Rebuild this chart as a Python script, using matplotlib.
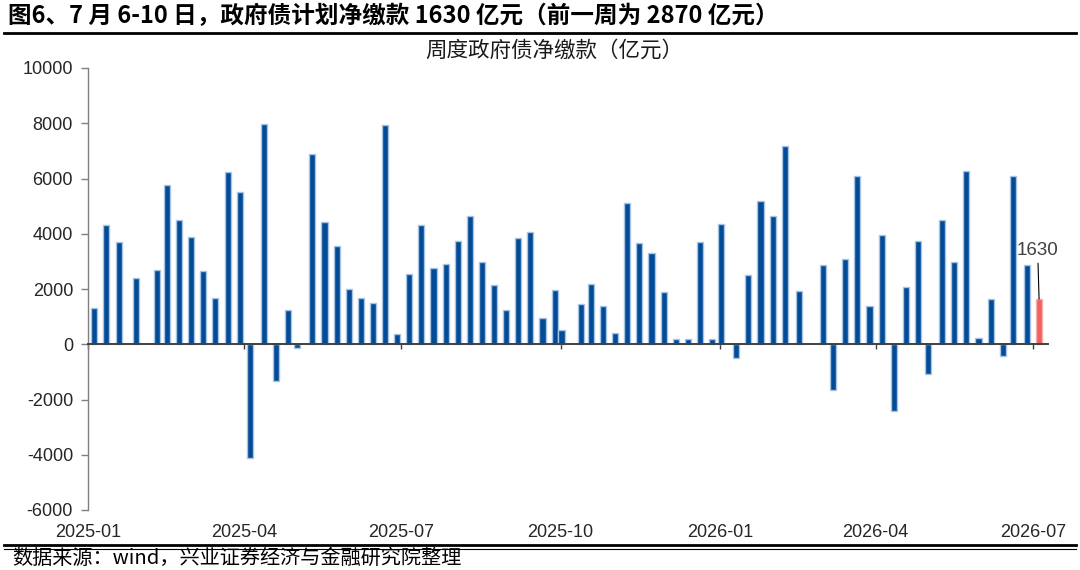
import matplotlib
matplotlib.use("Agg")
import matplotlib.pyplot as plt
import matplotlib.dates as mdates
from matplotlib.lines import Line2D
from matplotlib.ticker import FixedLocator, FuncFormatter
import pandas as pd

plt.rcParams['font.family'] = ['Liberation Sans', 'Noto Sans CJK SC', 'DejaVu Sans']

# ---------------- data ----------------
dates = [
    "2025-01-03", "2025-01-10", "2025-01-17", "2025-01-27", "2025-02-08", "2025-02-14", "2025-02-21", "2025-02-28",
    "2025-03-07", "2025-03-14", "2025-03-21", "2025-03-28", "2025-04-03", "2025-04-11", "2025-04-18", "2025-04-25",
    "2025-04-30", "2025-05-09", "2025-05-16", "2025-05-23", "2025-05-30", "2025-06-06", "2025-06-13", "2025-06-20",
    "2025-06-27", "2025-07-04", "2025-07-11", "2025-07-18", "2025-07-25", "2025-08-01", "2025-08-08", "2025-08-15",
    "2025-08-22", "2025-08-29", "2025-09-05", "2025-09-12", "2025-09-19", "2025-09-26", "2025-09-30", "2025-10-11",
    "2025-10-17", "2025-10-24", "2025-10-31", "2025-11-07", "2025-11-14", "2025-11-21", "2025-11-28", "2025-12-05",
    "2025-12-12", "2025-12-19", "2025-12-26", "2025-12-31", "2026-01-09", "2026-01-16", "2026-01-23", "2026-01-30",
    "2026-02-06", "2026-02-14", "2026-02-28", "2026-03-06", "2026-03-13", "2026-03-20", "2026-03-27", "2026-04-03",
    "2026-04-10", "2026-04-17", "2026-04-24", "2026-04-30", "2026-05-08", "2026-05-15", "2026-05-22", "2026-05-29",
    "2026-06-05", "2026-06-12", "2026-06-18", "2026-06-26", "2026-07-03",
]
values = [
    1330, 4300, 3710, 2410, 2670, 5750, 4500, 3870,
    2640, 1670, 6250, 5510, -4120, 7990, -1330, 1240,
    -150, 6890, 4420, 3560, 2010, 1660, 1480, 7920,
    380, 2540, 4320, 2760, 2900, 3740, 4630, 2970,
    2140, 1240, 3830, 4070, 940, 1960, 500, 1440,
    2180, 1380, 410, 5120, 3670, 3320, 1890, 190,
    190, 3710, 180, 4370, -510, 2490, 5190, 4650,
    7180, 1920, 2860, -1650, 3100, 6090, 1380, 3970,
    -2430, 2060, 3750, -1090, 4510, 2970, 6280, 230,
    1650, -440, 6090, 2870, 1630,
]
yticks = [-6000, -4000, -2000, 0, 2000, 4000, 6000, 8000, 10000]
tick_months = [1, 4, 7, 10]
title = "图6、7 月 6-10 日，政府债计划净缴款 1630 亿元（前一周为 2870 亿元）"
chart_title = "周度政府债净缴款（亿元）"
source = "数据来源：wind，兴业证券经济与金融研究院整理"
x_start, x_end = "2025-01-01", "2026-07-09 16:00"

# ---------------- style ----------------
BLUE = "#024b96"
RED = "#f0605e"
EDGE_BLUE = "#a8c3e3"
EDGE_RED = "#f7b0ae"
W, H = 1080, 570

fig = plt.figure(figsize=(W / 100, H / 100), dpi=100)
ax = fig.add_axes([88.3 / W, (H - 510) / H, (1048 - 88.3) / W, (510 - 68) / H])

x = pd.to_datetime(dates) + pd.Timedelta(hours=36)
n = len(values)
colors = [BLUE] * (n - 1) + [RED]
edges = [EDGE_BLUE] * (n - 1) + [EDGE_RED]
ax.bar(x, values, width=3.5, color=colors, edgecolor=edges, linewidth=1.0, zorder=2)

ax.set_xlim(pd.Timestamp(x_start), pd.Timestamp(x_end))
ax.set_ylim(yticks[0], yticks[-1])

# y axis
ax.yaxis.set_major_locator(FixedLocator(yticks))
ax.yaxis.set_major_formatter(FuncFormatter(lambda v, p: f"{int(v)}"))
ax.tick_params(axis='y', direction='out', length=5, width=1, color='#7f7f7f',
               labelsize=13, labelcolor='#262626', pad=6)

for s in ['top', 'right']:
    ax.spines[s].set_visible(False)
ax.spines['left'].set_color('#7f7f7f')
ax.spines['left'].set_linewidth(1.0)
ax.spines['bottom'].set_position(('data', 0))
ax.spines['bottom'].set_color('#404040')
ax.spines['bottom'].set_linewidth(1.4)
ax.spines['bottom'].set_zorder(3)

loc = mdates.MonthLocator(bymonth=tick_months)
ax.xaxis.set_major_locator(loc)
ax.tick_params(axis='x', direction='out', length=3.5, width=1, color='#404040',
               labelbottom=False)

sec = ax.secondary_xaxis(0)
sec.xaxis.set_major_locator(mdates.MonthLocator(bymonth=tick_months))
sec.xaxis.set_major_formatter(mdates.DateFormatter('%Y-%m'))
sec.spines['bottom'].set_visible(False)
sec.tick_params(axis='x', length=0, pad=10, labelsize=13, labelcolor='#262626')

# annotation of last bar
ax.annotate(f"{values[-1]}", xy=(x[-1], values[-1]), xytext=(-1, 35),
            textcoords='offset points', ha='center', va='center',
            fontsize=13.5, color='#404040',
            arrowprops=dict(arrowstyle='-', color='black', lw=0.8,
                            shrinkA=1, shrinkB=0))

# texts
fig.text(554 / W, 1 - 51 / H, chart_title, ha='center', va='center',
         fontsize=15.5, family=['Noto Sans CJK SC', 'DejaVu Sans'], color='#1a1a1a')
fig.text(8 / W, 1 - 16 / H, title, ha='left', va='center', fontsize=17,
         fontweight='bold', family=['Noto Sans CJK SC', 'DejaVu Sans'], color='black')
fig.text(12 / W, 1 - 558 / H, source, ha='left', va='center', fontsize=14.5,
         family=['Noto Sans CJK SC', 'DejaVu Sans'], color='black')

fig.add_artist(Line2D([4 / W, 1076 / W], [1 - 33 / H] * 2, transform=fig.transFigure,
                      color='black', lw=2))
fig.add_artist(Line2D([4 / W, 1076 / W], [1 - 544.5 / H] * 2, transform=fig.transFigure,
                      color='black', lw=2))
fig.add_artist(Line2D([4 / W, 1076 / W], [1 - 548.5 / H] * 2, transform=fig.transFigure,
                      color='black', lw=0.8))

fig.savefig("out.png", dpi=100)
